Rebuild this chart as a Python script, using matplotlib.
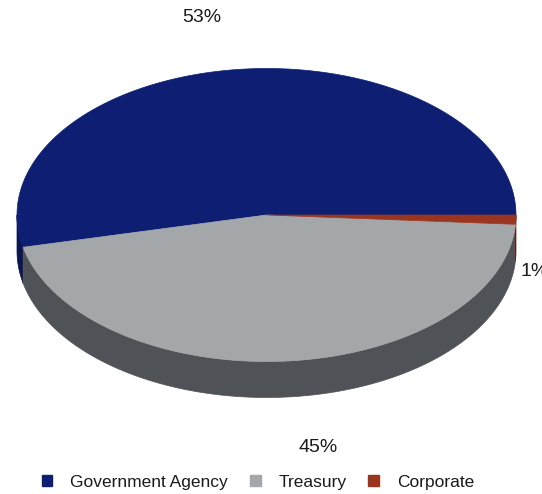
import numpy as np
import matplotlib
matplotlib.use("Agg")
import matplotlib.pyplot as plt
from matplotlib.patches import Polygon, Patch

# Portfolio composition
categories = ["Government Agency", "Treasury", "Corporate"]
values = [53, 45, 1]
top_colors = ["#0d1e73", "#a4a7aa", "#9b3520"]
side_colors = ["#0a1650", "#4f5357", "#5e2113"]

plt.rcParams["font.family"] = ["Liberation Sans", "DejaVu Sans"]

W, H = 542, 494
fig = plt.figure(figsize=(W / 100, H / 100), dpi=100)
ax = fig.add_axes([0, 0, 1, 1])
ax.set_xlim(0, W)
ax.set_ylim(H, 0)
ax.axis("off")

# Tilted-disc geometry (screen units)
cx, cy = 266.5, 215.0
rx, ry = 249.5, 146.5
depth = 36.0


def arc(t0, t1, n=200, dy=0.0):
    t = np.radians(np.linspace(t0, t1, n))
    return np.column_stack([cx + rx * np.cos(t), cy - ry * np.sin(t) + dy])


fractions = np.array(values, dtype=float) / np.sum(values)
bounds = np.concatenate([[0.0], np.cumsum(fractions) * 360.0])

# Side walls: only the front half (180..360 deg) is visible
for i in range(len(values)):
    s0, s1 = max(bounds[i], 180.0), min(bounds[i + 1], 360.0)
    if s1 > s0:
        upper = arc(s0, s1)
        lower = arc(s1, s0, dy=depth)
        ax.add_patch(Polygon(np.vstack([upper, lower]), closed=True,
                             facecolor=side_colors[i], edgecolor=side_colors[i],
                             linewidth=0.5))

# Top faces
for i in range(len(values)):
    pts = np.vstack([[cx, cy], arc(bounds[i], bounds[i + 1]), [cx, cy]])
    ax.add_patch(Polygon(pts, closed=True, facecolor=top_colors[i],
                         edgecolor=top_colors[i], linewidth=0.5))

# Percentage labels
label_pos = [(201.5, 18), (318, 447), (521, 271)]
label_ha = ["center", "center", "left"]
for v, (x, y), ha in zip(values, label_pos, label_ha):
    ax.text(x, y, f"{v}%", ha=ha, va="center", fontsize=14, color="#1a1a1a")

handles = [Patch(facecolor=c, edgecolor=c) for c in top_colors]
fig.legend(handles, categories, loc="center", ncol=3, frameon=False,
           bbox_to_anchor=(258 / W, 1 - 482 / H), fontsize=12.5,
           handlelength=0.63, handleheight=0.63, handletextpad=1.03,
           columnspacing=1.25, labelcolor="#1a1a1a")

fig.savefig("out.png", dpi=100)
